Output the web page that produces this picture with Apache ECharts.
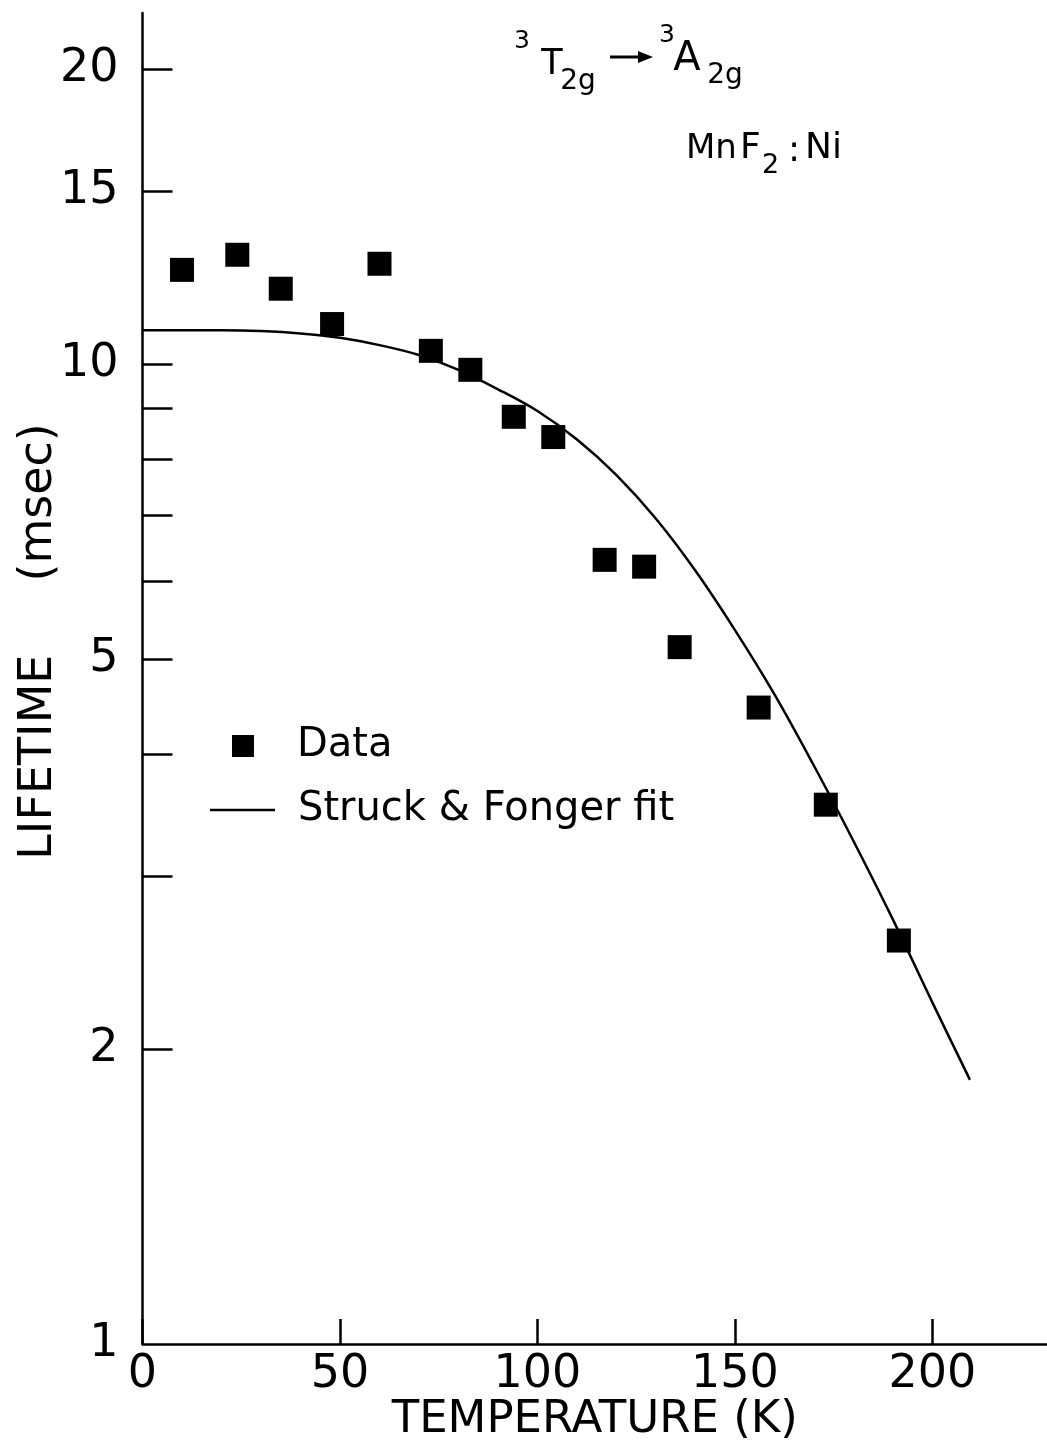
<!DOCTYPE html>
<html>
<head>
<meta charset="utf-8">
<title>MnF2:Ni lifetime vs temperature</title>
<script src="https://cdn.jsdelivr.net/npm/echarts@6/dist/echarts.min.js"></script>
<style>
  html, body { margin: 0; padding: 0; background: #fff; }
  #chart { width: 1047px; height: 1440px; }
</style>
</head>
<body>
<div id="chart"></div>
<script>
// Measured lifetimes of the 3T2g -> 3A2g emission
const temperature = [10, 24, 35, 48, 60, 73, 83, 94, 104, 117, 127, 136, 156, 173, 191.5];
const lifetime = [12.47, 12.92, 11.93, 10.98, 12.65, 10.31, 9.86, 8.83, 8.42, 6.31, 6.21, 5.14, 4.46, 3.55, 2.58];

// Struck & Fonger model curve
const fitTemperature = [0, 10, 20, 30, 40, 50, 60, 70, 80, 90, 100, 110, 120, 130, 140, 150, 160, 170, 180, 190, 200, 209.5];
const fitLifetime = [10.82, 10.82, 10.82, 10.8, 10.74, 10.63, 10.45, 10.21, 9.86, 9.42, 8.95, 8.37, 7.7, 6.95, 6.15, 5.35, 4.6, 3.89, 3.26, 2.71, 2.23, 1.86];

// Axis ticks and labels
const xTickValues = [0, 50, 100, 150, 200];
const yTickValues = [2, 3, 4, 5, 6, 7, 8, 9, 10, 15, 20];
const yLabelValues = [1, 2, 5, 10, 15, 20];

const FONT = '"DejaVu Sans", sans-serif';
const INK = '#000';

const chart = echarts.init(document.getElementById('chart'), null, { renderer: 'canvas' });

const scatterData = temperature.map((t, i) => [t, lifetime[i]]);
const fitData = fitTemperature.map((t, i) => [t, fitLifetime[i]]);

function txt(text, x, y, size, align) {
  return {
    type: 'text',
    style: {
      text: text, x: x, y: y,
      font: size + 'px ' + FONT,
      fill: INK,
      align: align || 'left',
      verticalAlign: 'middle'
    }
  };
}

chart.setOption({
  backgroundColor: '#fff',
  animation: false,
  grid: {
    left: 142.5, right: 0, top: 13, bottom: 96,
    containLabel: false,
    outerBoundsMode: 'none'
  },
  legend: [
    {
      data: ['Data'],
      left: 227, top: 721,
      orient: 'vertical',
      itemWidth: 22, itemHeight: 22,
      icon: 'rect',
      textStyle: { fontFamily: FONT, fontSize: 40, color: INK, padding: [0, 0, 0, 38] }
    },
    {
      data: ['Struck & Fonger fit'],
      left: 205, top: 785,
      orient: 'vertical',
      itemWidth: 65, itemHeight: 2.5,
      icon: 'rect',
      textStyle: { fontFamily: FONT, fontSize: 40, color: INK, padding: [0, 0, 0, 18] }
    }
  ],
  xAxis: {
    type: 'value',
    min: 0, max: 229,
    name: 'TEMPERATURE (K)',
    nameLocation: 'middle',
    nameGap: 54,
    nameMoveOverlap: false,
    nameTextStyle: { fontFamily: FONT, fontSize: 45, color: INK },
    axisLine: { show: true, onZero: false, lineStyle: { color: INK, width: 2.5 } },
    axisTick: { show: true, inside: true, length: 25, customValues: xTickValues, lineStyle: { color: INK, width: 2.5 } },
    axisLabel: { show: true, customValues: xTickValues, margin: 8, fontFamily: FONT, fontSize: 46, color: INK },
    splitLine: { show: false }
  },
  yAxis: {
    type: 'log',
    logBase: 10,
    min: 1, max: 22.8,
    name: 'LIFETIME     (msec)',
    nameLocation: 'middle',
    nameRotate: 90,
    nameGap: 80,
    nameMoveOverlap: false,
    nameTextStyle: { fontFamily: FONT, fontSize: 46, color: INK, padding: [0, 0, 0, 74] },
    axisLine: { show: true, onZero: false, lineStyle: { color: INK, width: 2.5 } },
    axisTick: { show: true, inside: true, length: 30, customValues: yTickValues, lineStyle: { color: INK, width: 2.5 } },
    axisLabel: { show: true, customValues: yLabelValues, margin: 24, fontFamily: FONT, fontSize: 46, color: INK },
    splitLine: { show: false }
  },
  series: [
    {
      name: 'Struck & Fonger fit',
      type: 'line',
      data: fitData,
      smooth: 0.35,
      showSymbol: false,
      symbol: 'none',
      color: INK,
      lineStyle: { color: INK, width: 2.5 },
      z: 2
    },
    {
      name: 'Data',
      type: 'scatter',
      data: scatterData,
      symbol: 'rect',
      symbolSize: 24,
      color: INK,
      itemStyle: { color: INK, opacity: 1 },
      z: 3
    }
  ],
  graphic: [
    // 3T2g -> 3A2g
    txt('3', 522, 41, 25, 'center'),
    txt('T', 552, 65, 35, 'center'),
    txt('2g', 578, 82, 28, 'center'),
    {
      type: 'line',
      shape: { x1: 610, y1: 57, x2: 642, y2: 57 },
      style: { stroke: INK, lineWidth: 3 }
    },
    {
      type: 'polygon',
      shape: { points: [[638, 51], [653, 57], [638, 63]] },
      style: { fill: INK }
    },
    txt('3', 667, 35, 25, 'center'),
    txt('A', 687, 60, 40, 'center'),
    txt('2g', 725, 76, 28, 'center'),
    // MnF2:Ni
    txt('Mn', 686, 149, 34, 'left'),
    txt('F', 740, 149, 36, 'left'),
    txt('2', 762, 166, 27, 'left'),
    txt(':', 788, 152, 36, 'left'),
    txt('Ni', 805, 149, 36, 'left')
  ]
});
</script>
</body>
</html>
